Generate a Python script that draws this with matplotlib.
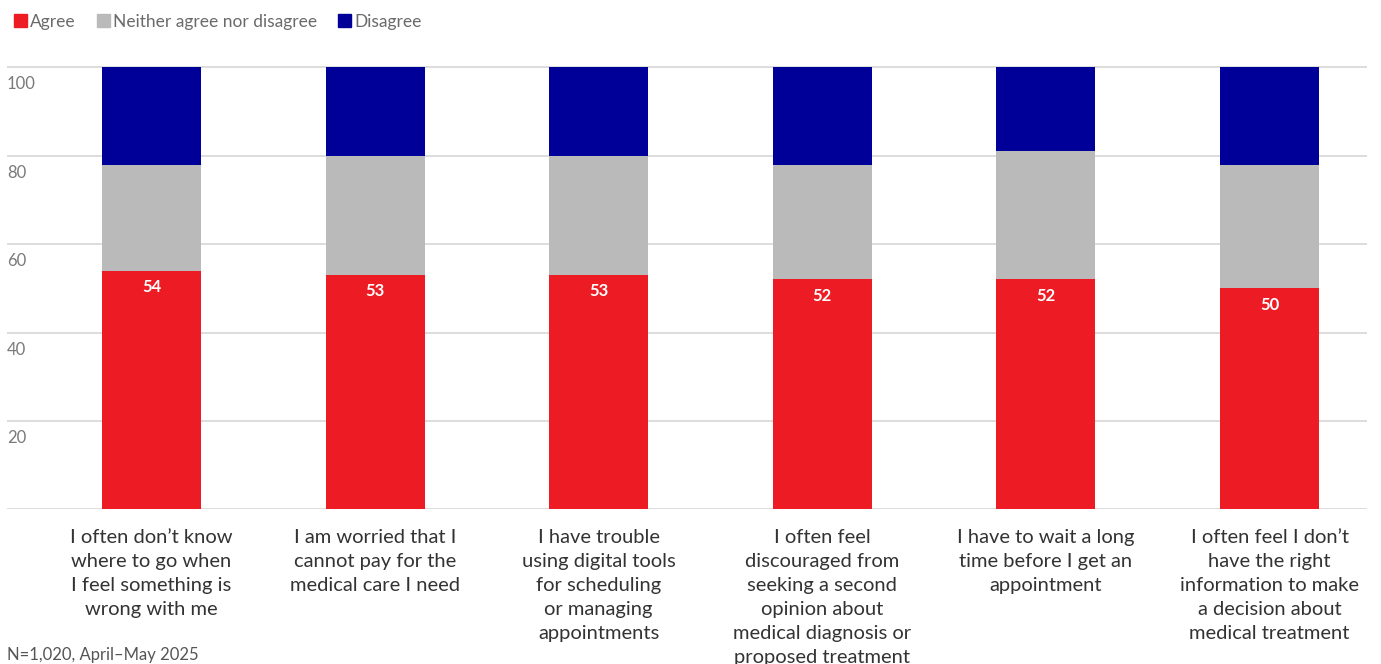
import numpy as np
import matplotlib.pyplot as plt
from matplotlib.patches import Patch

plt.rcParams['font.family'] = ['Lato', 'DejaVu Sans']

# Survey statements and the share of answers (%)
statements = [
    "I often don\u2019t know\nwhere to go when\nI feel something is\nwrong with me",
    "I am worried that I\ncannot pay for the\nmedical care I need",
    "I have trouble\nusing digital tools\nfor scheduling\nor managing\nappointments",
    "I often feel\ndiscouraged from\nseeking a second\nopinion about\nmedical diagnosis or\nproposed treatment",
    "I have to wait a long\ntime before I get an\nappointment",
    "I often feel I don\u2019t\nhave the right\ninformation to make\na decision about\nmedical treatment",
]
agree = [54, 53, 53, 52, 52, 50]
neither = [24, 27, 27, 26, 29, 28]
disagree = [22, 20, 20, 22, 19, 22]
y_ticks = [20, 40, 60, 80, 100]

RED = "#ED1C24"
GREY = "#BABABA"
BLUE = "#000099"

W, H = 1381, 664
fig = plt.figure(figsize=(W / 100, H / 100), dpi=100)
ax = fig.add_axes([7 / W, 1 - 509.3 / H, 1360 / W, 446.4 / H])

x = np.arange(len(statements))
agree = np.array(agree)
neither = np.array(neither)
disagree = np.array(disagree)
bw = 0.443

ax.bar(x, agree, bw, color=RED, zorder=3)
ax.bar(x, neither, bw, bottom=agree, color=GREY, zorder=3)
ax.bar(x, disagree, bw, bottom=agree + neither, color=BLUE, zorder=3)

for xi, v in zip(x, agree):
    ax.annotate(str(v), xy=(xi, v), xytext=(0, -6), textcoords="offset points",
                ha="center", va="top", color="white", fontsize=12,
                fontweight="bold", zorder=4)

ax.set_xlim(-0.646, 5.436)
ax.set_ylim(0, 101)

# horizontal grid incl. baseline
for v in [0] + y_ticks:
    ax.axhline(v, color="#DDDDDD", lw=1.4, zorder=1)
for v in y_ticks:
    ax.annotate(str(v), xy=(0, v), xycoords=ax.get_yaxis_transform(),
                xytext=(0, -6.5), textcoords="offset points", ha="left", va="top",
                color="#7A7A7A", fontsize=12)

ax.set_yticks([])
ax.set_xticks(x, statements)
ax.tick_params(axis="x", length=0, pad=14, labelsize=14.5, labelcolor="#333333")
for lbl in ax.get_xticklabels():
    lbl.set_linespacing(1.5)
for s in ax.spines.values():
    s.set_visible(False)

handles = [Patch(color=RED, label="Agree"),
           Patch(color=GREY, label="Neither agree nor disagree"),
           Patch(color=BLUE, label="Disagree")]
fig.legend(handles=handles, loc="upper left", bbox_to_anchor=(0.0, 1.0),
           ncol=3, frameon=False, handlelength=0.75, handleheight=0.75,
           handletextpad=0.2, columnspacing=1.2, borderaxespad=0.4,
           prop={"size": 12.5}, labelcolor="#6A6A6A")

fig.text(7 / W, 1 / H, "N=1,020, April\u2013May 2025", ha="left", va="bottom",
         fontsize=12, color="#555555")

fig.savefig("out.png", dpi=100)
